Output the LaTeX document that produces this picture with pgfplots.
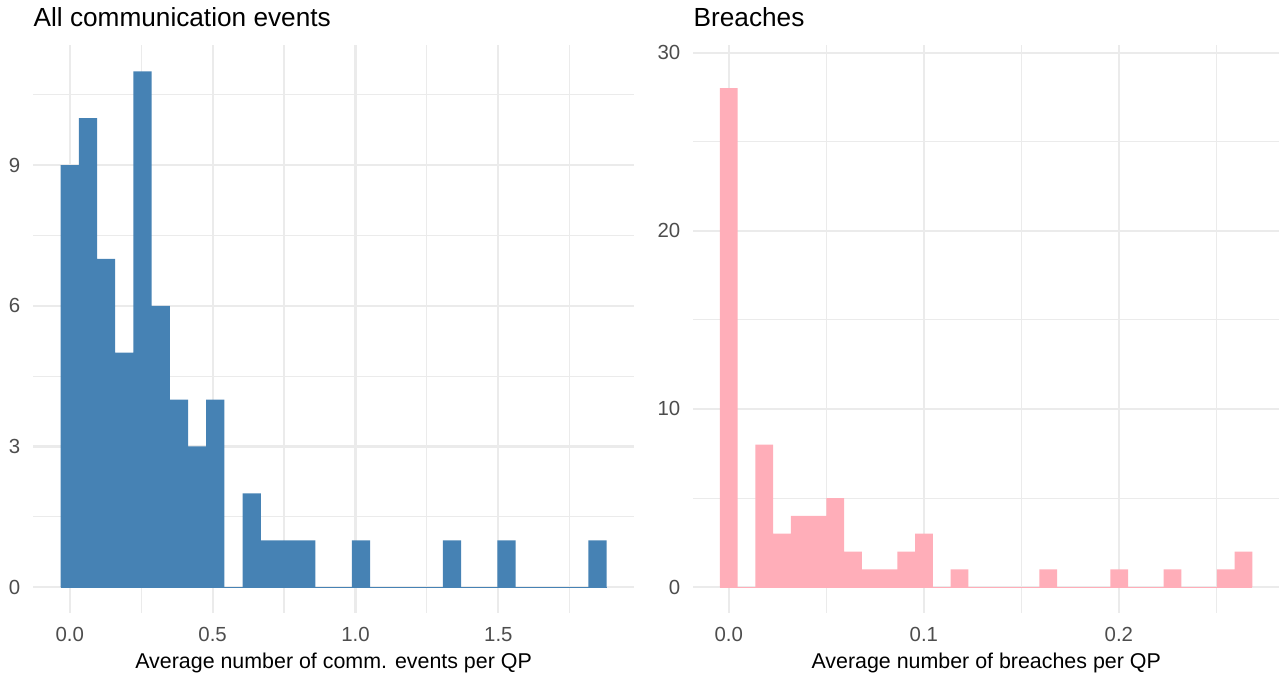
\documentclass[border=0pt]{standalone}
\usepackage{pgfplots}
\pgfplotsset{compat=1.18}
\usepackage{fontspec}
\setmainfont{Liberation Sans}
\definecolor{steelblue}{RGB}{70,130,180}
\definecolor{lpink}{RGB}{255,174,185}
\definecolor{grid92}{RGB}{235,235,235}
\definecolor{grey30}{RGB}{77,77,77}
\pgfplotsset{
  hist/.style={
    scale only axis,
    anchor=south west,
    height=283.75pt,
    axis line style={draw=none},
    major tick length=0pt,
    minor tick length=0pt,
    tick style={draw=none},
    grid=both,
    major grid style={color=grid92, line width=1.07pt},
    minor grid style={color=grid92, line width=0.53pt},
    /pgf/number format/assume math mode=true,
    ticklabel style={font=\fontsize{10.2}{12}\selectfont, text=grey30},
    xticklabel style={anchor=base, yshift=-14.15pt},
    yticklabel style={anchor=east, inner sep=0pt, xshift=-6.3pt},
    clip=false,
  }
}
\begin{document}
\begin{tikzpicture}
\useasboundingbox (0,0) rectangle (641pt,339.5pt);
% Left panel
\begin{axis}[hist,
  at={(16.65pt,33pt)},
  width=300.35pt,
  xmin=-0.1274, xmax=1.9747,
  ymin=-0.55, ymax=11.55,
  xtick={0,0.5,1,1.5},
  xticklabels={0.0,0.5,1.0,1.5},
  minor xtick={0.25,0.75,1.25,1.75},
  ytick={0,3,6,9},
  minor ytick={1.5,4.5,7.5,10.5},
]
\addplot[steelblue, line width=0.5pt] coordinates {(-0.03185,0) (1.87915,0)};
\addplot[ybar interval, fill=steelblue, draw=none] coordinates {
(-0.03185,9) (0.03185,10) (0.09555,7) (0.15925,5) (0.22295,11) (0.28665,6)
(0.35035,4) (0.41405,3) (0.47775,4) (0.54145,0) (0.60515,2) (0.66885,1)
(0.73255,1) (0.79625,1) (0.85995,0) (0.92365,0) (0.98735,1) (1.05105,0)
(1.11475,0) (1.17845,0) (1.24215,0) (1.30585,1) (1.36955,0) (1.43325,0)
(1.49695,1) (1.56065,0) (1.62435,0) (1.68805,0) (1.75175,0) (1.81545,1)
(1.87915,0)};
\end{axis}
% Right panel
\begin{axis}[hist,
  at={(346.65pt,33pt)},
  width=292.85pt,
  xmin=-0.0182, xmax=0.2821,
  ymin=-1.45, ymax=30.4,
  xtick={0,0.1,0.2},
  xticklabels={0.0,0.1,0.2},
  minor xtick={0.05,0.15,0.25},
  ytick={0,10,20,30},
  minor ytick={5,15,25},
]
\addplot[lpink, line width=0.5pt] coordinates {(-0.00455,0) (0.26845,0)};
\addplot[ybar interval, fill=lpink, draw=none] coordinates {
(-0.00455,28) (0.00455,0) (0.01365,8) (0.02275,3) (0.03185,4) (0.04095,4)
(0.05005,5) (0.05915,2) (0.06825,1) (0.07735,1) (0.08645,2) (0.09555,3)
(0.10465,0) (0.11375,1) (0.12285,0) (0.13195,0) (0.14105,0) (0.15015,0)
(0.15925,1) (0.16835,0) (0.17745,0) (0.18655,0) (0.19565,1) (0.20475,0)
(0.21385,0) (0.22295,1) (0.23205,0) (0.24115,0) (0.25025,1) (0.25935,2)
(0.26845,0)};
\end{axis}
% Titles and axis titles
\node[anchor=base west, inner sep=0pt, font=\fontsize{13.1}{15}\selectfont] at (16.65pt,326.15pt) {All communication events};
\node[anchor=base west, inner sep=0pt, font=\fontsize{13.1}{15}\selectfont] at (346.65pt,326.15pt) {Breaches};
\node[anchor=base, inner sep=0pt, font=\fontsize{10.7}{12}\selectfont] at (166.8pt,5.35pt) {Average number of comm. events per QP};
\node[anchor=base, inner sep=0pt, font=\fontsize{10.7}{12}\selectfont] at (493.1pt,5.35pt) {Average number of breaches per QP};
\end{tikzpicture}
\end{document}
